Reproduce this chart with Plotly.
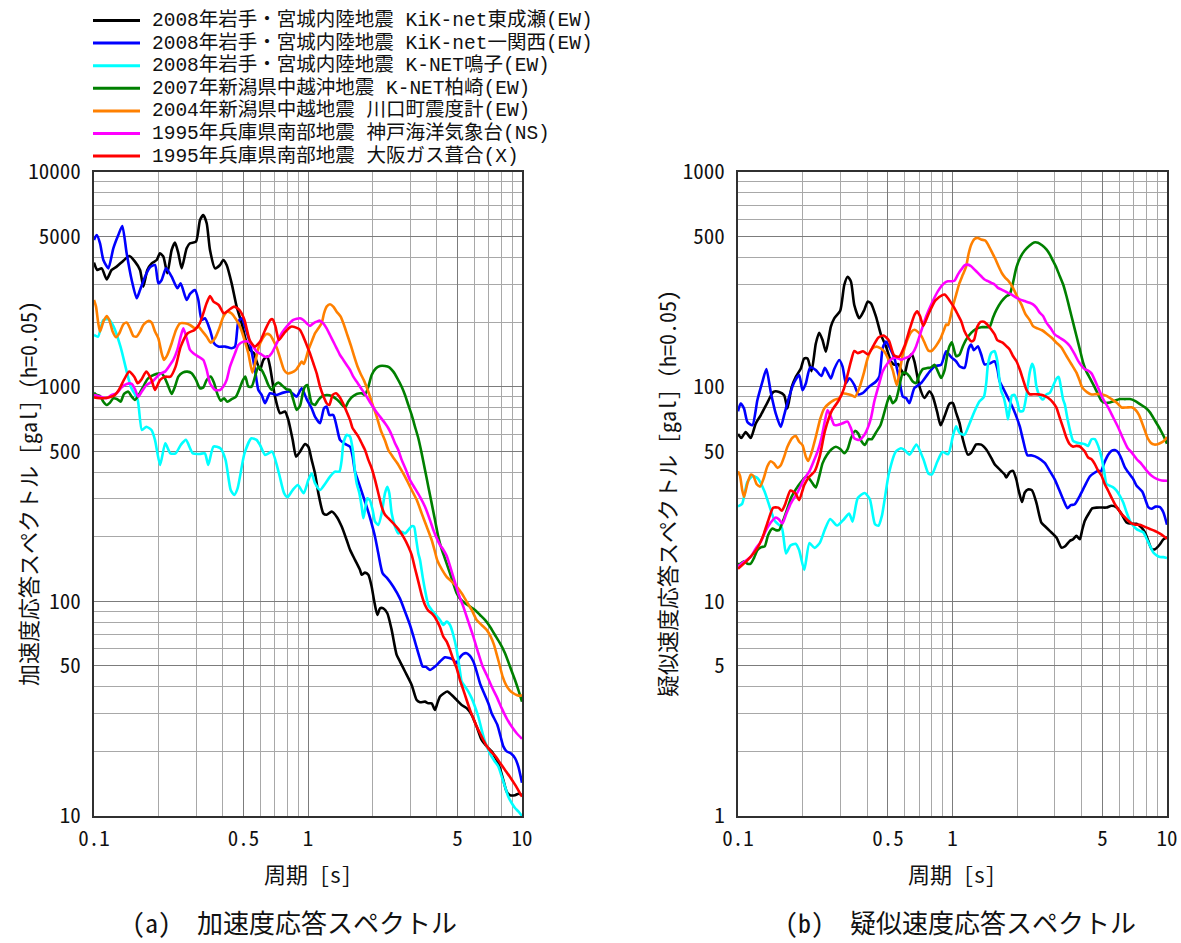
import numpy as np
import plotly.graph_objects as go

# ---------------------------------------------------------------------------
# Acceleration response spectra (h=0.05), period [s] and Sa [gal]
# ---------------------------------------------------------------------------
T_HIGASHINARUSE = [
    0.100, 0.1036, 0.1086, 0.1146, 0.1209, 0.1276, 0.1371, 0.1463, 0.1554, 0.1641,
    0.170, 0.1775, 0.186, 0.1963, 0.2034, 0.2109, 0.2201, 0.2306, 0.239, 0.2478,
    0.2568, 0.271, 0.281, 0.2997, 0.3129, 0.3243, 0.3362, 0.3484, 0.3676, 0.3879,
    0.4022, 0.4168, 0.4398, 0.4642, 0.4898, 0.5169, 0.5358, 0.5595, 0.5756, 0.5967,
    0.6185, 0.6457, 0.6644, 0.7011, 0.7399, 0.7806, 0.809, 0.848, 0.880, 0.918,
    0.968, 1.004, 1.04, 1.078, 1.118, 1.179, 1.222, 1.29, 1.361, 1.437,
    1.516, 1.572, 1.658, 1.75, 1.782, 1.847, 1.914, 1.984, 2.034, 2.109,
    2.17, 2.249, 2.348, 2.46, 2.596, 2.691, 2.84, 3.051, 3.22, 3.337,
    3.522, 3.65, 3.784, 3.922, 4.022, 4.139, 4.32, 4.478, 4.692, 4.952,
    5.224, 5.512, 5.818, 6.139, 6.478, 6.838, 7.214, 7.612, 7.89, 8.179,
    8.478, 8.788, 9.275, 9.614, 10.0,
]
SA_HIGASHINARUSE = [
    3784, 3496, 3558, 3162, 3496, 3623, 3864, 4062, 3823, 3496,
    2924, 3496, 3755, 3891, 4180, 4033, 3373, 4331, 4688, 4180,
    3558, 4410, 4654, 4737, 5975, 6304, 5768, 4331, 3558, 3688,
    3891, 3688, 3030, 2359, 1973, 1592, 1483, 1431, 1309, 1197,
    1332, 1380, 1240, 899, 752, 766, 700, 565, 472, 498,
    541, 525, 456, 395, 319, 257, 253, 262, 248, 223,
    193, 174, 156, 140, 133, 136, 133, 117, 101.5, 86.4,
    92.8, 92.8, 88, 73.6, 56.3, 52.4, 47.1, 40.8, 34.7, 33.9,
    34.1, 33.5, 33.5, 31.2, 33.5, 36.0, 37.3, 38.0, 36.6, 34.7,
    32.9, 31.8, 29.6, 26.1, 22.6, 21.1, 20.0, 18.2, 16.7, 14.7,
    13.0, 12.5, 12.5, 12.7, 12.5,
]

T_ICHINOSEKI_NISHI = [
    0.1, 0.1029, 0.1067, 0.1106, 0.1167, 0.1231, 0.1299, 0.1356, 0.1421, 0.15,
    0.1583, 0.1641, 0.1731, 0.1827, 0.1928, 0.1998, 0.2071, 0.217, 0.2306, 0.2451,
    0.2541, 0.271, 0.281, 0.2965, 0.3073, 0.3185, 0.3302, 0.3484, 0.3637, 0.3811,
    0.4094, 0.4398, 0.456, 0.4726, 0.4898, 0.5132, 0.5358, 0.5655, 0.5862, 0.6075,
    0.6295, 0.6644, 0.714, 0.7667, 0.824, 0.885, 0.9342, 0.986, 1.04, 1.078,
    1.138, 1.188, 1.222, 1.258, 1.313, 1.361, 1.411, 1.489, 1.572, 1.617,
    1.658, 1.719, 1.814, 1.88, 1.963, 2.057, 2.131, 2.233, 2.348, 2.505,
    2.691, 2.84, 2.996, 3.161, 3.313, 3.434, 3.559, 3.716, 3.922, 4.139,
    4.367, 4.575, 4.776, 4.916, 5.095, 5.318, 5.512, 5.715, 5.924, 6.139,
    6.364, 6.596, 6.96, 7.214, 7.667, 7.947, 8.179, 8.478, 8.853, 9.275,
    9.614, 10.0,
]
SA_ICHINOSEKI_NISHI = [
    4823, 5089, 4654, 3892, 3558, 4410, 5089, 5603, 4180, 3140,
    2580, 2820, 3254, 3597, 3688, 3030, 3140, 3558, 3254, 2873,
    3030, 2534, 2703, 2820, 2534, 2045, 2082, 1838, 1592, 1537,
    1537, 1510, 1537, 2009, 2082, 1838, 1592, 1197, 965, 915,
    837, 932, 915, 938, 948, 899, 983, 875, 793, 725,
    675, 793, 807, 738, 738, 652, 565, 541, 525, 472,
    402, 361, 307, 276, 239, 200, 167, 135, 128, 117,
    103, 89.6, 77.6, 64.9, 55.3, 49.7, 49.5, 47.9, 49.7, 52.4,
    54.9, 54.4, 53.4, 51.5, 54.4, 56.9, 57.3, 55.7, 52.4, 47.1,
    41.5, 38.0, 33.5, 30.1, 26.6, 23.4, 21.1, 20.0, 19.6, 18.6,
    17.0, 14.3,
]

T_NARUKO = [
    0.1, 0.1045, 0.1105, 0.1168, 0.1235, 0.133, 0.1486, 0.16, 0.1674, 0.1756,
    0.1856, 0.1927, 0.2037, 0.2153, 0.2276, 0.2406, 0.2543, 0.2689, 0.2896, 0.3119,
    0.3297, 0.342, 0.3617, 0.3895, 0.4118, 0.4352, 0.4518, 0.4688, 0.5048, 0.5437,
    0.5747, 0.5966, 0.6305, 0.679, 0.7313, 0.7731, 0.8024, 0.848, 0.8966, 0.955,
    1.004, 1.04, 1.078, 1.138, 1.2, 1.267, 1.337, 1.401, 1.437, 1.463,
    1.516, 1.572, 1.6, 1.628, 1.658, 1.688, 1.738, 1.782, 1.814, 1.847,
    1.893, 1.945, 2.004, 2.057, 2.131, 2.209, 2.29, 2.348, 2.399, 2.46,
    2.55, 2.643, 2.74, 2.84, 2.943, 3.051, 3.129, 3.197, 3.278, 3.337,
    3.434, 3.522, 3.65, 3.784, 3.958, 4.139, 4.289, 4.446, 4.609, 4.776,
    4.952, 5.095, 5.224, 5.414, 5.613, 5.818, 6.03, 6.252, 6.478, 6.715,
    6.96, 7.214, 7.478, 7.751, 8.035, 8.328, 8.632, 8.948, 9.275, 9.614,
    10.0,
]
SA_NARUKO = [
    1741, 1710, 2045, 2060, 1904, 1536, 1000, 867, 628, 651,
    628, 565, 432, 545, 489, 489, 535, 565, 489, 486,
    489, 432, 526, 516, 456, 330, 313, 336, 489, 575,
    565, 535, 481, 498, 395, 319, 306, 330, 348, 319,
    368, 395, 355, 330, 352, 381, 402, 402, 456, 545,
    596, 585, 545, 489, 402, 355, 319, 276, 244, 267,
    302, 296, 267, 235, 227, 257, 319, 342, 319, 257,
    223, 207, 211, 207, 215, 224, 223, 197, 167, 156,
    130, 113, 96.2, 91.2, 86.4, 81.9, 77.6, 80.4, 77.6, 69.7,
    59.4, 49.7, 42.3, 40.1, 38.0, 35.4, 32.3, 29.0, 25.2, 22.2,
    20.3, 18.9, 17.9, 17.0, 15.3, 13.7, 12.3, 11.5, 10.9, 10.5,
    10.0,
]

T_KASHIWAZAKI = [
    0.1, 0.1029, 0.1067, 0.1106, 0.1146, 0.1188, 0.1231, 0.1285, 0.1332, 0.1381,
    0.1447, 0.15, 0.1554, 0.1628, 0.17, 0.1775, 0.186, 0.1963, 0.2071, 0.2147,
    0.2226, 0.2306, 0.239, 0.2478, 0.2596, 0.273, 0.286, 0.2997, 0.3129, 0.3243,
    0.3362, 0.3509, 0.3637, 0.377, 0.3908, 0.4051, 0.42, 0.4398, 0.4609, 0.4776,
    0.4952, 0.5095, 0.5261, 0.5455, 0.5655, 0.5862, 0.6075, 0.6295, 0.6526, 0.6764,
    0.7011, 0.7267, 0.7613, 0.7947, 0.824, 0.854, 0.885, 0.918, 0.948, 0.968,
    0.993, 1.014, 1.04, 1.078, 1.118, 1.158, 1.222, 1.29, 1.361, 1.421,
    1.489, 1.544, 1.6, 1.688, 1.782, 1.847, 1.914, 1.984, 2.078, 2.17,
    2.29, 2.399, 2.505, 2.615, 2.74, 2.84, 2.943, 3.051, 3.161, 3.278,
    3.398, 3.522, 3.65, 3.784, 3.922, 4.064, 4.212, 4.32, 4.446, 4.609,
    4.776, 4.952, 5.13, 5.414, 5.715, 6.03, 6.364, 6.715, 7.086, 7.478,
    7.89, 8.328, 8.788, 9.275, 9.614, 10.0,
]
SA_KASHIWAZAKI = [
    938, 915, 905, 851, 821, 843, 883, 874, 851, 925,
    948, 899, 868, 925, 1001, 1083, 1122, 1147, 1154, 1094,
    1001, 925, 1001, 1114, 1163, 1175, 1154, 1075, 983, 992,
    1075, 1114, 1044, 925, 861, 883, 851, 874, 899, 972,
    1067, 1114, 1001, 1001, 1114, 1240, 1197, 1114, 1018, 965,
    1018, 1044, 1008, 972, 965, 868, 779, 815, 945, 1000,
    1018, 931, 837, 822, 867, 899, 915, 905, 874, 837,
    801, 852, 892, 925, 931, 915, 1000, 1134, 1218, 1248,
    1248, 1231, 1175, 1094, 1000, 915, 822, 738, 652, 575,
    489, 409, 342, 286, 239, 200, 175, 163, 150, 135,
    121, 109, 103, 98, 94.5, 91.2, 86.4, 81.9, 76.2, 69.7,
    63.8, 57.3, 49.7, 43.0, 38.7, 34.1,
]

T_KAWAGUCHI = [
    0.1, 0.1022, 0.1047, 0.1067, 0.1106, 0.1146, 0.1179, 0.1222, 0.1267, 0.1313,
    0.1371, 0.1421, 0.1473, 0.1527, 0.1583, 0.1641, 0.17, 0.1794, 0.186, 0.1928,
    0.1998, 0.2071, 0.2124, 0.2201, 0.2306, 0.2417, 0.2524, 0.2662, 0.281, 0.2965,
    0.3073, 0.322, 0.3362, 0.3509, 0.3676, 0.3851, 0.4022, 0.42, 0.4398, 0.4609,
    0.4811, 0.5023, 0.5261, 0.5494, 0.5655, 0.5862, 0.614, 0.641, 0.6644, 0.6937,
    0.719, 0.7452, 0.7725, 0.8008, 0.8389, 0.8788, 0.9108, 0.935, 0.955, 0.975,
    1.004, 1.04, 1.078, 1.118, 1.158, 1.188, 1.222, 1.267, 1.313, 1.361,
    1.421, 1.473, 1.527, 1.583, 1.641, 1.7, 1.763, 1.827, 1.914, 2.005,
    2.094, 2.185, 2.29, 2.373, 2.487, 2.615, 2.74, 2.891, 3.051, 3.22,
    3.398, 3.585, 3.784, 3.922, 4.022, 4.235, 4.446, 4.692, 4.952, 5.224,
    5.512, 5.818, 6.139, 6.478, 6.838, 7.14, 7.4, 7.667, 7.89, 8.121,
    8.418, 8.725, 9.111, 9.443, 9.788, 10.0,
]
SA_KAWAGUCHI = [
    2534, 2359, 1973, 1805, 2009, 2135, 2045, 1805, 1698, 1773,
    1952, 1988, 1870, 1723, 1710, 1805, 1938, 2024, 1988, 1805,
    1680, 1431, 1332, 1405, 1592, 1838, 1973, 1973, 1938, 1870,
    1904, 1805, 1710, 1604, 1680, 1870, 2120, 2236, 2194, 2060,
    1904, 1680, 1431, 1163, 1285, 1510, 1680, 1761, 1741, 1621,
    1494, 1332, 1197, 1154, 1163, 1197, 1262, 1310, 1276, 1340,
    1483, 1621, 1773, 1870, 1973, 2196, 2359, 2419, 2359, 2236,
    2120, 1938, 1741, 1564, 1390, 1248, 1146, 1067, 948, 822,
    725, 628, 561, 507, 472, 440, 406, 368, 330, 297,
    257, 223, 193, 170, 155, 140, 130, 123.6, 117, 109,
    99.7, 91.2, 81.9, 77.6, 73.6, 68.5, 62.7, 55.3, 49.7, 44.6,
    40.8, 38.7, 37.3, 36.6, 36.3, 36.6,
]

T_KOBE_JMA = [
    0.1, 0.1067, 0.1146, 0.1209, 0.1276, 0.1347, 0.1421, 0.15, 0.1554, 0.1611,
    0.167, 0.1763, 0.1895, 0.2034, 0.2147, 0.2265, 0.2348, 0.2451, 0.2541, 0.2615,
    0.271, 0.281, 0.2912, 0.3073, 0.3243, 0.3362, 0.3484, 0.3676, 0.3879, 0.4022,
    0.4168, 0.432, 0.456, 0.4726, 0.4986, 0.5261, 0.5553, 0.5756, 0.6009, 0.6295,
    0.6526, 0.6764, 0.714, 0.7534, 0.7947, 0.854, 0.9172, 0.951, 0.986, 1.021,
    1.059, 1.098, 1.138, 1.179, 1.222, 1.267, 1.313, 1.361, 1.411, 1.463,
    1.516, 1.572, 1.628, 1.688, 1.75, 1.814, 1.88, 1.963, 2.057, 2.17,
    2.29, 2.373, 2.46, 2.55, 2.643, 2.74, 2.871, 2.994, 3.161, 3.337,
    3.522, 3.716, 3.853, 3.993, 4.139, 4.289, 4.446, 4.776, 5.04, 5.318,
    5.613, 5.924, 6.252, 6.549, 6.838, 7.214, 7.612, 8.035, 8.478, 8.948,
    9.443, 10.0,
]
SA_KOBE_JMA = [
    915, 899, 883, 915, 932, 994, 1030, 1030, 973, 899,
    948, 1019, 1067, 1147, 1175, 1262, 1332, 1483, 1710, 1870,
    1680, 1483, 1431, 1380, 1332, 1197, 1037, 965, 965, 1001,
    1075, 1240, 1431, 1564, 1621, 1621, 1537, 1456, 1420, 1380,
    1380, 1431, 1592, 1773, 1904, 2045, 2082, 2045, 1973, 1917,
    1973, 2009, 2030, 1973, 1870, 1741, 1621, 1509, 1405, 1332,
    1262, 1196, 1113, 1056, 1000, 948, 899, 837, 779, 725,
    675, 640, 596, 545, 507, 456, 409, 368, 336, 307,
    276, 239, 215, 197, 183, 174, 163, 130, 109, 94.5,
    80.4, 68.5, 57.3, 49.7, 45.4, 40.1, 36.0, 31.8, 28.5, 26.1,
    24.3, 22.9,
]

T_FUKIAI = [
    0.1, 0.1105, 0.1235, 0.1306, 0.138, 0.1459, 0.1542, 0.16, 0.1661, 0.1756,
    0.1856, 0.1927, 0.2037, 0.2153, 0.2276, 0.2406, 0.2543, 0.2739, 0.295, 0.3119,
    0.3358, 0.3484, 0.3617, 0.3825, 0.4043, 0.4273, 0.4518, 0.4775, 0.5048, 0.5336,
    0.5641, 0.5963, 0.6305, 0.6665, 0.684, 0.7048, 0.7313, 0.7731, 0.8324, 0.8966,
    0.918, 0.951, 0.986, 1.021, 1.059, 1.098, 1.138, 1.179, 1.222, 1.258,
    1.304, 1.351, 1.401, 1.452, 1.516, 1.572, 1.617, 1.658, 1.719, 1.782,
    1.847, 1.914, 1.984, 2.057, 2.131, 2.209, 2.29, 2.373, 2.505, 2.643,
    2.788, 2.943, 3.051, 3.161, 3.278, 3.398, 3.522, 3.65, 3.784, 3.922,
    4.022, 4.139, 4.289, 4.446, 4.609, 4.776, 4.952, 5.13, 5.318, 5.512,
    5.715, 5.924, 6.139, 6.364, 6.596, 6.838, 7.14, 7.478, 7.89, 8.328,
    8.788, 9.275, 9.69, 10.0,
]
SA_FUKIAI = [
    892, 883, 905, 965, 1075, 1175, 1113, 1037, 1075, 1175,
    1075, 965, 1075, 1113, 1113, 1240, 1536, 1773, 1837, 1973,
    2445, 2645, 2489, 2402, 2196, 2276, 2359, 2276, 2045, 1650,
    1536, 1621, 1837, 2045, 2060, 1904, 1650, 1773, 1904, 1870,
    1837, 1711, 1564, 1430, 1285, 1154, 1000, 905, 837, 822,
    915, 931, 899, 843, 765, 700, 640, 617, 585, 545,
    507, 456, 417, 368, 319, 276, 253, 244, 231, 217,
    200, 180, 164.5, 142.6, 123.6, 107, 96.2, 90.5, 88, 84.3,
    80.4, 75.7, 68.5, 64.9, 59.4, 53.4, 48.8, 43.0, 38.7, 34.7,
    31.2, 28.5, 26.1, 24.3, 22.6, 21.2, 20.0, 19.1, 17.7, 16.4,
    15.2, 14.0, 13.0, 12.3,
]

SERIES_LABELS = [
    "2008年岩手・宮城内陸地震 KiK-net東成瀬(EW)",
    "2008年岩手・宮城内陸地震 KiK-net一関西(EW)",
    "2008年岩手・宮城内陸地震 K-NET鳴子(EW)",
    "2007年新潟県中越沖地震 K-NET柏崎(EW)",
    "2004年新潟県中越地震 川口町震度計(EW)",
    "1995年兵庫県南部地震 神戸海洋気象台(NS)",
    "1995年兵庫県南部地震 大阪ガス葺合(X)",
]
SERIES_COLORS = ["#000000", "#0000ff", "#00ffff", "#008000", "#ff8000", "#ff00ff", "#ff0000"]

PERIODS = [T_HIGASHINARUSE, T_ICHINOSEKI_NISHI, T_NARUKO, T_KASHIWAZAKI,
           T_KAWAGUCHI, T_KOBE_JMA, T_FUKIAI]
SPECTRA = [SA_HIGASHINARUSE, SA_ICHINOSEKI_NISHI, SA_NARUKO, SA_KASHIWAZAKI,
           SA_KAWAGUCHI, SA_KOBE_JMA, SA_FUKIAI]

X_TICKS = [0.1, 0.5, 1, 5, 10]
X_TICK_TEXT = ["0.1", "0.5", "1", "5", "10"]
SA_TICKS = [10, 50, 100, 500, 1000, 5000, 10000]
SV_TICKS = [1, 5, 10, 50, 100, 500, 1000]

# ---------------------------------------------------------------------------
W, H = 1181, 943
FONT = "Noto Sans Mono CJK JP, Noto Sans CJK JP, Liberation Sans, sans-serif"
# legend rows are packed tightly; a Latin mono face with compact line metrics
# keeps each row's box within its 22.6 px slot, CJK glyphs fall back to Noto
LEGEND_FONT = "Liberation Mono, Noto Sans Mono CJK JP, Noto Sans CJK JP, monospace"


def px(x):
    return x / W


def py(y):
    return 1 - y / H


def minor_values(lo_exp, hi_exp):
    vals = []
    for e in range(lo_exp, hi_exp):
        for m in range(2, 10):
            vals.append(m * 10.0 ** e)
    return vals


fig = go.Figure()

for t, sa, color, label in zip(PERIODS, SPECTRA, SERIES_COLORS, SERIES_LABELS):
    t = np.asarray(t, dtype=float)
    sa = np.asarray(sa, dtype=float)
    # pseudo-velocity response: pSv = Sa * T / (2*pi)
    psv = sa * t / (2 * np.pi)
    style = dict(color=color, width=2.6, shape="spline", smoothing=0.6)
    fig.add_trace(go.Scatter(x=t, y=sa, mode="lines", line=style, name=label,
                             showlegend=False, xaxis="x", yaxis="y"))
    fig.add_trace(go.Scatter(x=t, y=psv, mode="lines", line=style, name=label,
                             showlegend=False, xaxis="x2", yaxis="y2"))

x_dom_a = [px(94), px(522)]
x_dom_b = [px(738), px(1167)]
y_dom = [py(816), py(172)]

common_axis = dict(
    type="log", automargin=False,
    showline=True, mirror=True, linecolor="#303030", linewidth=2,
    showgrid=True, gridcolor="#7c7c7c", gridwidth=1.3,
    zeroline=False, ticks="",
    tickfont=dict(family=FONT, size=21, color="#111111"),
)
xminor = dict(tickvals=minor_values(-1, 1), showgrid=True,
              gridcolor="#a8a8a8", gridwidth=1.1, ticks="")

fig.update_layout(
    width=W, height=H, autosize=False,
    margin=dict(l=0, r=0, t=0, b=0, pad=0),
    paper_bgcolor="white", plot_bgcolor="white",
    font=dict(family=FONT, color="#111111"),
    xaxis=dict(common_axis, domain=x_dom_a, anchor="y", range=[-1, 1],
               tickvals=X_TICKS, ticktext=X_TICK_TEXT, ticklabelstandoff=3,
               minor=xminor),
    yaxis=dict(common_axis, domain=y_dom, anchor="x", range=[1, 4],
               tickvals=SA_TICKS, ticktext=[str(v) for v in SA_TICKS],
               ticklabelstandoff=7,
               minor=dict(tickvals=minor_values(1, 4), showgrid=True,
                          gridcolor="#a8a8a8", gridwidth=1.1, ticks="")),
    xaxis2=dict(common_axis, domain=x_dom_b, anchor="y2", range=[-1, 1],
                tickvals=X_TICKS, ticktext=X_TICK_TEXT, ticklabelstandoff=3,
                minor=xminor),
    yaxis2=dict(common_axis, domain=y_dom, anchor="x2", range=[0, 3],
                tickvals=SV_TICKS, ticktext=[str(v) for v in SV_TICKS],
                ticklabelstandoff=7,
                minor=dict(tickvals=minor_values(0, 3), showgrid=True,
                           gridcolor="#a8a8a8", gridwidth=1.1, ticks="")),
)

annotations = []


def text(s, x, y, size, angle=0, xanchor="center", family=FONT):
    annotations.append(dict(
        text=s, xref="paper", yref="paper", x=px(x), y=py(y),
        xanchor=xanchor, yanchor="middle", showarrow=False, textangle=angle,
        align="left", font=dict(family=family, size=size, color="#111111"),
        borderpad=0,
    ))


# axis titles
text("周期 [s]", 308, 873, 22)
text("周期 [s]", 952, 873, 22)
text("加速度応答スペクトル [gal] (h=0.05)", 27, 494, 22, angle=-90)
text("疑似速度応答スペクトル [gal] (h=0.05)", 666, 494, 22, angle=-90)

# panel captions
text("(a)\u00a0\u00a0加速度応答スペクトル", 294, 921, 26)
text("(b)\u00a0\u00a0疑似速度応答スペクトル", 960, 921, 26)

# legend block above the left panel, rows 22.6 px apart
ROW0, ROW_STEP = 20.5, 22.6
shapes = []
for i, (label, color) in enumerate(zip(SERIES_LABELS, SERIES_COLORS)):
    yy = ROW0 + ROW_STEP * i
    shapes.append(dict(type="line", xref="paper", yref="paper",
                       x0=px(93), x1=px(140), y0=py(yy), y1=py(yy),
                       line=dict(color=color, width=3)))
    text(label, 151, yy, 19.5, xanchor="left", family=LEGEND_FONT)

fig.update_layout(annotations=annotations, shapes=shapes)

fig.write_html("out.html")
